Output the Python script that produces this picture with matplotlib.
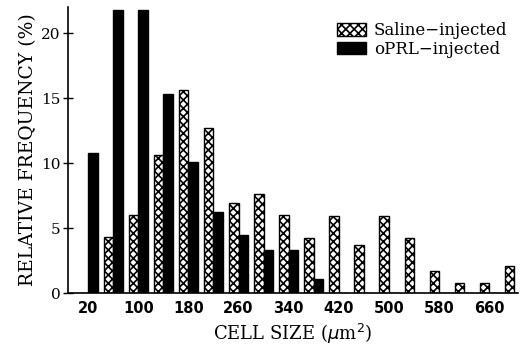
import numpy as np
from matplotlib import pyplot as plt

# data
ukuran = [20, 60, 100, 140, 180, 220, 260, 300, 340, 380, 420, 460, 500, 540, 580, 620, 660, 700]
saline = [0, 4.3, 6.0, 10.6, 15.6, 12.7, 6.9, 7.6, 6.0, 4.2, 5.9, 3.7, 5.9, 4.2, 1.7, 0.8, 0.8, 2.1]
oprl = [10.8, 21.8, 21.8, 15.3, 10.1, 6.2, 4.5, 3.3, 3.3, 1.1, 0, 0, 0, 0, 0, 0, 0, 0]
label_x = [20, 100, 180, 260, 340, 420, 500, 580, 660]
label_y = [0, 5, 10, 15, 20]

plt.rcParams['hatch.linewidth'] = 1.2

fig = plt.figure(figsize=(5.2, 3.51), dpi=100)
ax = fig.add_axes([0.131, 0.165, 0.865, 0.815])

x = np.array(ukuran)
lebar = 15
ax.bar(x - lebar/2, saline, width=lebar, color='white', edgecolor='black',
       hatch='xxxx', linewidth=1.0, label='Saline\u2212injected')
ax.bar(x + lebar/2, oprl, width=lebar, color='black', edgecolor='black',
       linewidth=1.0, label='oPRL\u2212injected')

ax.set_xlim(-12, 706)
ax.set_ylim(0, 22)
ax.spines['top'].set_visible(False)
ax.spines['right'].set_visible(False)
ax.spines['left'].set_linewidth(1.2)
ax.spines['bottom'].set_linewidth(1.2)

ax.set_xticks(label_x)
ax.set_xticklabels([str(v) for v in label_x], fontfamily='DejaVu Sans',
                   fontsize=10.5, fontweight='bold')
ax.tick_params(axis='x', length=0, pad=6)
ax.set_yticks(label_y)
ax.set_yticklabels([str(v) for v in label_y], fontfamily='DejaVu Serif', fontsize=11)
ax.tick_params(axis='y', direction='inout', length=7, width=1.0, pad=2)

ax.set_xlabel('CELL SIZE ($\\mu$m$^2$)', fontfamily='DejaVu Serif', fontsize=13, labelpad=4)
ax.set_ylabel('RELATIVE FREQUENCY (%)', fontfamily='DejaVu Serif', fontsize=13.5, labelpad=3)

ax.legend(loc='upper right', bbox_to_anchor=(1.01, 1.0), frameon=False,
          prop={'family': 'DejaVu Serif', 'size': 12}, handlelength=1.7,
          handleheight=0.8, handletextpad=0.5, labelspacing=0.1)

plt.savefig('out.png', dpi=100)
